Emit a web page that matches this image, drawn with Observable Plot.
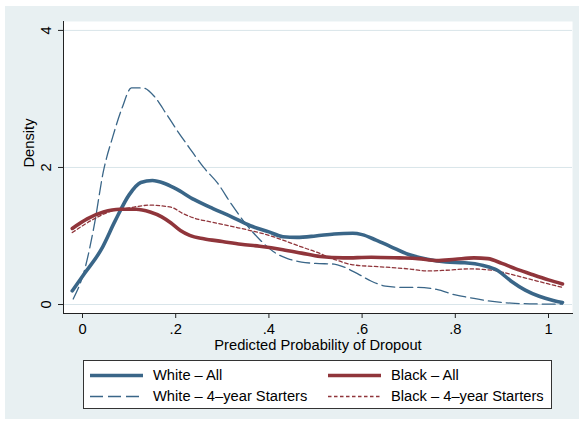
<!DOCTYPE html>
<html>
<head>
<meta charset="utf-8">
<script src="https://cdn.jsdelivr.net/npm/d3@7"></script>
<script src="https://cdn.jsdelivr.net/npm/@observablehq/plot@0.6"></script>
<style>
  html, body { margin: 0; padding: 0; background: #fff; }
  #fig { position: relative; width: 579px; height: 423px; overflow: hidden;
         font-family: "Liberation Sans", Arial, Helvetica, sans-serif; }
  #panel { position: absolute; left: 5px; top: 6px; right: 0; bottom: 4px; background: #e8f0f2; }
  #chart svg { position: absolute; left: 0; top: 0; }
  #legend { position: absolute; left: 83px; top: 360px; width: 469px; height: 49px;
            box-sizing: border-box; border: 1px solid #333; background: #fff;
            padding: 4px 0 0 6px; display: grid; grid-template-columns: 238px 1fr;
            grid-auto-rows: 21px; font-size: 14.7px; color: #000; }
  .item { display: flex; align-items: center; white-space: nowrap; line-height: 21px; }
  .item svg { width: 53px; height: 21px; margin-right: 10px; flex: none; }
</style>
</head>
<body>
<div id="fig">
  <div id="panel"></div>
  <div id="chart"></div>
  <div id="legend"></div>
</div>
<script>
// Kernel density estimates of predicted dropout probability: [probability, density]
const whiteAll = [
  [-0.022, 0.20], [0.005, 0.46], [0.04, 0.80], [0.07, 1.22], [0.10, 1.60],
  [0.125, 1.78], [0.15, 1.81], [0.175, 1.77], [0.20, 1.69], [0.24, 1.53],
  [0.28, 1.40], [0.32, 1.28], [0.36, 1.15], [0.40, 1.06], [0.43, 0.99],
  [0.46, 0.98], [0.50, 1.00], [0.54, 1.03], [0.58, 1.04], [0.60, 1.02],
  [0.63, 0.94], [0.66, 0.85], [0.70, 0.73], [0.74, 0.66], [0.78, 0.62],
  [0.82, 0.61], [0.86, 0.57], [0.89, 0.50], [0.92, 0.34], [0.95, 0.21],
  [0.98, 0.12], [1.01, 0.06], [1.03, 0.03]
];
const whiteStarters = [
  [-0.02, 0.08], [0.005, 0.52], [0.025, 1.15], [0.045, 1.95], [0.065, 2.45],
  [0.085, 2.87], [0.105, 3.16], [0.13, 3.16], [0.155, 3.03], [0.18, 2.78],
  [0.205, 2.52], [0.23, 2.28], [0.26, 2.00], [0.29, 1.77], [0.32, 1.46],
  [0.35, 1.18], [0.38, 0.95], [0.41, 0.77], [0.44, 0.67], [0.47, 0.62],
  [0.50, 0.60], [0.54, 0.59], [0.56, 0.55], [0.59, 0.45], [0.62, 0.34],
  [0.65, 0.27], [0.69, 0.25], [0.72, 0.25], [0.76, 0.22], [0.80, 0.14],
  [0.84, 0.09], [0.88, 0.045], [0.92, 0.02], [0.96, 0.01], [1.03, 0.005]
];
const blackAll = [
  [-0.022, 1.11], [0.01, 1.25], [0.045, 1.35], [0.08, 1.39], [0.115, 1.39],
  [0.145, 1.35], [0.17, 1.28], [0.19, 1.19], [0.21, 1.08], [0.23, 1.01],
  [0.26, 0.96], [0.30, 0.92], [0.34, 0.88], [0.38, 0.85], [0.43, 0.80],
  [0.47, 0.75], [0.51, 0.70], [0.56, 0.68], [0.62, 0.69], [0.68, 0.68],
  [0.72, 0.67], [0.76, 0.64], [0.80, 0.66], [0.84, 0.68], [0.87, 0.67],
  [0.90, 0.60], [0.93, 0.52], [0.96, 0.45], [1.00, 0.36], [1.03, 0.30]
];
const blackStarters = [
  [-0.022, 1.05], [0.025, 1.25], [0.06, 1.36], [0.10, 1.41], [0.145, 1.45],
  [0.19, 1.42], [0.215, 1.33], [0.24, 1.26], [0.28, 1.20], [0.32, 1.14],
  [0.36, 1.08], [0.40, 1.01], [0.43, 0.94], [0.47, 0.84], [0.50, 0.77],
  [0.54, 0.66], [0.58, 0.58], [0.64, 0.55], [0.70, 0.52], [0.74, 0.49],
  [0.78, 0.50], [0.83, 0.52], [0.88, 0.50], [0.92, 0.44], [0.96, 0.37],
  [1.00, 0.30], [1.03, 0.25]
];

const xTicks = [0, 0.2, 0.4, 0.6, 0.8, 1];
const xTickLabels = ["0", ".2", ".4", ".6", ".8", "1"];
const yTicks = [0, 2, 4];
const yTickLabels = ["0", "2", "4"];

const navy = "#3a6688";
const maroon = "#90353b";

const series = [
  { label: "White \u2013 All", data: whiteAll, stroke: navy, width: 3.6, dash: null },
  { label: "Black \u2013 All", data: blackAll, stroke: maroon, width: 3.6, dash: null },
  { label: "White \u2013 4\u2013year Starters", data: whiteStarters, stroke: navy, width: 1.3, dash: "13,5" },
  { label: "Black \u2013 4\u2013year Starters", data: blackStarters, stroke: maroon, width: 1.3, dash: "3.5,2.5" }
];

const lineMarks = series.map(s => Plot.line(s.data, {
  x: d => d[0], y: d => d[1], stroke: s.stroke, strokeWidth: s.width,
  strokeDasharray: s.dash ?? undefined, curve: "monotone-x"
}));

const chart = Plot.plot({
  width: 579,
  height: 358,
  marginLeft: 63,
  marginRight: 7,
  marginTop: 21,
  marginBottom: 45,
  style: { background: "transparent", fontFamily: "'Liberation Sans', Arial, Helvetica, sans-serif", fontSize: "14.7px", color: "#000" },
  x: { domain: [-0.0408, 1.0515] },
  y: { domain: [-0.131, 4.13] },
  marks: [
    Plot.frame({ fill: "white", stroke: "none" }),
    Plot.gridY(yTicks, { stroke: "#d9e5ea", strokeOpacity: 1, strokeWidth: 1 }),
    // thin starter lines first so the thick "All" lines sit on top
    lineMarks[2], lineMarks[3], lineMarks[0], lineMarks[1],
    Plot.frame({ anchor: "left", stroke: "#222" }),
    Plot.frame({ anchor: "bottom", stroke: "#222" }),
    Plot.axisY({ ticks: yTicks, tickSize: 5, tickRotate: -90, tickPadding: 8, label: null, stroke: "#222",
                 tickFormat: v => yTickLabels[yTicks.indexOf(v)] }),
    Plot.axisX({ ticks: xTicks, tickSize: 5, tickPadding: 5, label: null, stroke: "#222",
                 tickFormat: v => xTickLabels[xTicks.indexOf(v)] }),
    Plot.text(["Predicted Probability of Dropout"], { frameAnchor: "bottom", lineAnchor: "top", dy: 26, fill: "#000" }),
    Plot.text(["Density"], { frameAnchor: "left", lineAnchor: "top", rotate: -90, dx: -40, fill: "#000" })
  ]
});
document.getElementById("chart").appendChild(chart);

// Legend: two columns, "All" on the first row, starters on the second
const legend = document.getElementById("legend");
for (const s of series) {
  const item = document.createElement("div");
  item.className = "item";
  item.innerHTML = `<svg viewBox="0 0 53 21"><line x1="0" x2="53" y1="10.5" y2="10.5" stroke="${s.stroke}" stroke-width="${s.width}"${s.dash ? ` stroke-dasharray="${s.dash}"` : ""}/></svg><span>${s.label}</span>`;
  legend.appendChild(item);
}
</script>
</body>
</html>
